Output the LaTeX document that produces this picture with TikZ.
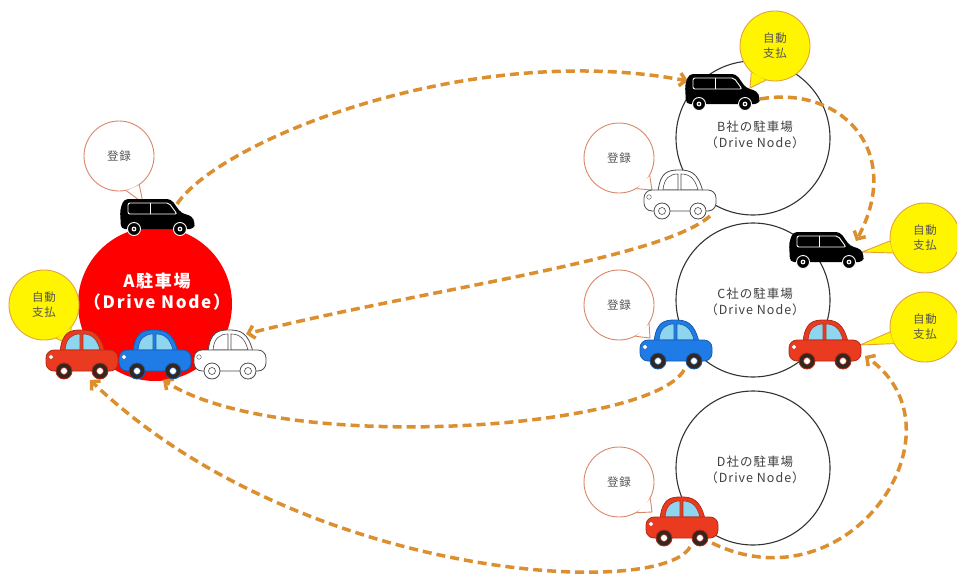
\documentclass[tikz,border=0pt]{standalone}
\usepackage{fontspec}
\setmainfont{Noto Sans CJK JP}
\usetikzlibrary{arrows.meta}
\definecolor{lotred}{HTML}{FF0000}
\definecolor{flowline}{HTML}{DB8F2F}
\definecolor{regline}{HTML}{D9876A}
\definecolor{payline}{HTML}{E3A23C}
\definecolor{payfill}{HTML}{FFF500}
\definecolor{labelgray}{HTML}{555555}
\definecolor{carred}{HTML}{EA3A1F}
\definecolor{carblue}{HTML}{1F7BE6}
\definecolor{glass}{HTML}{8ED6EF}
\definecolor{tyre}{HTML}{35261E}
\pgfdeclarelayer{back}
\pgfsetlayers{back,main}

\newcommand{\sedan}[6]{% name, position, body, outline, window, tyre
  \begin{scope}[shift={#2}]
    \filldraw[fill=#3,draw=#4,line width=0.8pt]
      (-22,-4) .. controls (-20,-24) and (-12,-26) .. (-1,-26)
      .. controls (10,-26) and (18,-24) .. (23,-4) -- cycle;
    \filldraw[fill=#5,draw=#4,line width=0.6pt]
      (-17,-6) .. controls (-16,-18) and (-10,-22) .. (-2,-22) -- (-2,-6) -- cycle;
    \filldraw[fill=#5,draw=#4,line width=0.6pt]
      (1,-22) .. controls (9,-22) and (15,-18) .. (18,-6) -- (1,-6) -- cycle;
    \filldraw[fill=#3,draw=#4,line width=0.8pt,rounded corners=8pt]
      (-36,-6) rectangle (36,15);
    \filldraw[fill=white,draw=#4,line width=0.4pt] (-31,1) circle (2.3pt);
    \foreach \wx in {-18,18} {
      \filldraw[fill=#6,draw=#4,line width=0.8pt] (\wx,15) circle (8pt);
      \filldraw[fill=white,draw=#4,line width=0.6pt] (\wx,15) circle (3.5pt);
    }
    \coordinate (#1-s) at (8,24);
    \coordinate (#1-ne) at (16,-22);
    \coordinate (#1-se) at (30,20);
    \coordinate (#1-e) at (40,10);
  \end{scope}}

\newcommand{\minivan}[2]{% name, position
  \begin{scope}[shift={#2}]
    \fill[black,rounded corners=4pt] (-36,11) -- (-37,-8) -- (-33,-19) -- (14,-19)
      -- (24,-5) -- (35,-2) -- (38,5) -- (37,11) -- cycle;
    \draw[white,line width=0.9pt,rounded corners=2pt]
      (-29,-4) -- (-29,-15) -- (12,-15) -- (20,-4) -- cycle;
    \draw[white,line width=0.9pt] (-7,-15) -- (-7,-4);
    \foreach \wx in {-23,23} {
      \filldraw[fill=black,draw=white,line width=0.9pt] (\wx,11) circle (6.5pt);
      \fill[white] (\wx,11) circle (2.4pt);
      \fill[black] (\wx,11) circle (1.1pt);
    }
    \coordinate (#1-nw) at (-34,-12);
    \coordinate (#1-ne) at (20,-14);
    \coordinate (#1-hood) at (30,-10);
    \coordinate (#1-e) at (38,6);
  \end{scope}}

\newcommand{\bubbletail}[6]{% bubble, angle, angle, tip, fill, line
  \fill[#5] (#1.#2) -- (#4) -- (#1.#3) -- cycle;
  \draw[#6,line width=0.9pt] (#1.#2) -- (#4) -- (#1.#3);}

\begin{document}
\begin{tikzpicture}[x=1pt,y=-1pt,
  lot/.style={circle,draw=black!80,line width=1.1pt,fill=white,minimum size=154pt,inner sep=0pt},
  lottext/.style={align=center,text=black!75,
    font={\fontsize{12.5}{15.5}\selectfont\addfontfeature{LetterSpace=8}}},
  regbubble/.style={circle,draw=regline,fill=white,line width=0.9pt,minimum size=70pt,
    text=labelgray,font={\fontsize{11.5}{14}\selectfont\addfontfeature{LetterSpace=6}}},
  paybubble/.style={circle,draw=payline,fill=payfill,line width=0.9pt,minimum size=70pt,
    align=center,text=labelgray,font={\fontsize{11.5}{15}\selectfont\addfontfeature{LetterSpace=6}}},
  flow/.style={draw=flowline,line width=3.5pt,dash pattern=on 9pt off 5pt,
    -{Straight Barb[length=6pt,width=13pt]}}]
  \useasboundingbox (0,0) rectangle (957,578);

  \begin{pgfonlayer}{back}
    \node[lot,fill=lotred,draw=none] (lotA) at (155,304) {};
    \node[lot] (lotB) at (753,138) {};
    \node[lot] (lotC) at (753,300) {};
    \node[lot] (lotD) at (753,468) {};
  \end{pgfonlayer}
  \node[lottext,text=white,font={\fontsize{17}{21}\selectfont\bfseries\addfontfeature{LetterSpace=10}}]
    (nameA) at (157,292) {A駐車場\\（Drive Node）};
  \node[lottext] (nameB) at (755,135) {B社の駐車場\\（Drive Node）};
  \node[lottext] (nameC) at (755,302) {C社の駐車場\\（Drive Node）};
  \node[lottext] (nameD) at (755,470) {D社の駐車場\\（Drive Node）};

  \node[regbubble] (regA) at (119,156) {登録};
  \coordinate (regA-tip) at (143,203);
  \bubbletail{regA}{282}{305}{regA-tip}{white}{regline}
  \node[paybubble] (payA) at (44,305) {自動\\支払};
  \coordinate (payA-tip) at (70,345);
  \bubbletail{payA}{290}{320}{payA-tip}{payfill}{payline}
  \node[paybubble] (payB) at (775,46) {自動\\支払};
  \coordinate (payB-tip) at (750,88);
  \bubbletail{payB}{228}{255}{payB-tip}{payfill}{payline}
  \node[regbubble] (regB) at (619,158) {登録};
  \coordinate (regB-tip) at (652,190);
  \bubbletail{regB}{300}{330}{regB-tip}{white}{regline}
  \node[paybubble] (payCv) at (925,238) {自動\\支払};
  \coordinate (payCv-tip) at (862,252);
  \bubbletail{payCv}{185}{205}{payCv-tip}{payfill}{payline}
  \node[paybubble] (payCr) at (925,327) {自動\\支払};
  \coordinate (payCr-tip) at (860,345);
  \bubbletail{payCr}{188}{208}{payCr-tip}{payfill}{payline}
  \node[regbubble] (regC) at (619,305) {登録};
  \coordinate (regC-tip) at (650,338);
  \bubbletail{regC}{298}{328}{regC-tip}{white}{regline}
  \node[regbubble] (regD) at (619,482) {登録};
  \coordinate (regD-tip) at (652,512);
  \bubbletail{regD}{300}{332}{regD-tip}{white}{regline}

  \minivan{vanA}{(157,218)}
  \sedan{carAr}{(82,356)}{carred}{carred!75!black}{glass}{tyre}
  \sedan{carAb}{(155,356)}{carblue}{carblue!75!black}{glass}{tyre}
  \sedan{carAw}{(230,356)}{white}{black!70}{white}{white}
  \minivan{vanB}{(722,93)}
  \sedan{carBw}{(680,196)}{white}{black!70}{white}{white}
  \minivan{vanC}{(826,251)}
  \sedan{carCb}{(676,346)}{carblue}{carblue!75!black}{glass}{tyre}
  \sedan{carCr}{(825,346)}{carred}{carred!75!black}{glass}{tyre}
  \sedan{carDr}{(682,523)}{carred}{carred!75!black}{glass}{tyre}

  \begin{pgfonlayer}{back}
    \draw[flow] (vanA-ne) .. controls (220,140) and (470,40) .. (vanB-nw);
    \draw[flow] (vanB-e) .. controls (840,85) and (905,150) .. (vanC-hood);
    \draw[flow] (carBw-se) .. controls (660,260) and (420,290) .. (carAw-ne);
    \draw[flow] (carCb-s) .. controls (650,430) and (280,455) .. (carAb-s);
    \draw[flow] (carDr-s) .. controls (660,600) and (300,580) .. (carAr-s);
    \draw[flow] (carDr-se) .. controls (850,610) and (970,430) .. (carCr-e);
  \end{pgfonlayer}
\end{tikzpicture}
\end{document}
